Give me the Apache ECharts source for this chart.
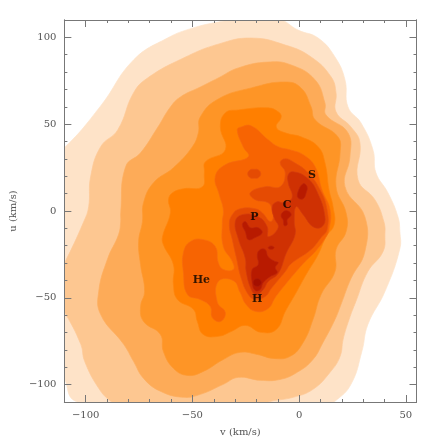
<!DOCTYPE html>
<html>
<head>
<meta charset="utf-8">
<style>
	html, body { margin: 0; padding: 0; background: #fff; }
	#chart { width: 436px; height: 443px; }
</style>
<script src="https://cdn.jsdelivr.net/npm/echarts@6/dist/echarts.min.js"></script>
</head>
<body>
<div id="chart"></div>
<script>
// tick values
var xMajor = [-100, -50, 0, 50];
var xMinor = [-100, -90, -80, -70, -60, -50, -40, -30, -20, -10, 0, 10, 20, 30, 40, 50];
var yMajor = [-100, -50, 0, 50, 100];
var yMinor = [-100, -90, -80, -70, -60, -50, -40, -30, -20, -10, 0, 10, 20, 30, 40, 50, 60, 70, 80, 90, 100];

// group names and where they sit, [v, u]
var groupNames = ['He', 'S', 'C', 'P', 'H'];
var groupSpots = [[-45.8, -40], [6, 20.9], [-5.6, 3.6], [-21, -3.3], [-19.6, -51]];

// density contours, [v, u], outermost first
var contour1 = [[-116, 33], [-110, 36.4], [-93, 60.5], [-77.6, 87], [-61.7, 99.6], [-50, 105.3], [-37.9, 108.8], [-27.6, 110.5], [-9.8, 110.5], [-0.5, 104.2], [8.9, 99.6], [16.8, 88.7], [21.5, 75.5], [22.9, 59.9], [29, 50.7], [34.6, 35.2], [36, 22], [41.6, 10.5], [46.3, -3.3], [47.2, -11.9], [47.2, -21.7], [40.2, -46.4], [32.2, -65.4], [29.4, -80.9], [24.3, -99.8], [16.8, -109.6], [5, -120], [-70, -120], [-104.7, -109.6], [-110, -96.4], [-116, -80]];
var contour2 = [[-77.6, 68], [-71, 76.6], [-54.2, 88.1], [-37.9, 96.1], [-22.4, 99.6], [-6.5, 95.6], [5.6, 88.7], [15, 77.2], [17.3, 68], [17.3, 57.1], [24.3, 48.4], [28.5, 39.2], [27.6, 18], [35.5, 6.5], [39.7, -6.1], [40.2, -13.6], [39.3, -23.4], [32.2, -34.9], [26.6, -52.1], [23.4, -62.5], [20.6, -74], [19.2, -83.7], [14.5, -92.9], [6.5, -102.7], [-2.8, -107.3], [-15, -110.2], [-27.6, -117], [-79, -117], [-88.3, -109.6], [-93.9, -102.1], [-100.5, -86.6], [-102.3, -76.8], [-110, -57.9], [-116.4, -45.2], [-110, -30.3], [-100.9, -6.1], [-98.6, 2.5], [-97.7, 19.7], [-93, 37], [-85, 46.7]];
var contour3 = [[-83.6, -1], [-81.3, 25.5], [-74.3, 33.5], [-66.4, 47.9], [-60.3, 59.9], [-55.6, 65.7], [-46.3, 71.4], [-37.9, 76.6], [-28.5, 82.4], [-14.5, 85.8], [-3.7, 84.1], [7.5, 75.5], [12.1, 62.2], [12.6, 55.3], [22.9, 45], [23.8, 31.2], [21.5, 14], [30.8, -3.3], [30.8, -23.4], [24.3, -38.9], [19.6, -53.9], [16.8, -62.5], [11.2, -75.7], [6.5, -85.5], [-0.9, -92.9], [-8.9, -97], [-18.2, -97.5], [-28.5, -95.8], [-35.5, -99.8], [-46.3, -105.6], [-54.2, -107.3], [-65, -103.8], [-72.9, -96.4], [-77.6, -86.6], [-82.2, -76.8], [-93, -59.6], [-93.9, -46.4], [-89.7, -27.4], [-84.6, -13.6], [-83.6, -6.1]];
var contour4 = [[-72.9, 4.8], [-68.2, 16.3], [-58.9, 24.9], [-50, 37], [-47.2, 45], [-46.3, 54.2], [-37.9, 64.5], [-22.4, 70.9], [-6.5, 74.3], [0.9, 70.9], [5.6, 60], [7.5, 52.5], [18.2, 42.7], [19.2, 33.5], [17.3, 14], [22, -1], [22, -11.9], [17.3, -22.2], [16.8, -34.9], [10.3, -48.1], [6.5, -62.5], [1.9, -75.7], [-4.2, -83.7], [-12.1, -84.9], [-19.6, -82.6], [-27.6, -81.4], [-35.5, -85.5], [-44.9, -92.4], [-52.3, -94.7], [-58.9, -90.6], [-63.6, -80.9], [-65, -71.1], [-72.9, -63.6], [-74.3, -55], [-72.4, -46.4], [-74.3, -30.9], [-75.2, -17.6], [-73.4, -6.1]];
var contour5 = [[-34.6, 56.5], [-28.5, 58.2], [-14.5, 59.4], [-9.8, 57.1], [-8.4, 54.2], [-10.7, 48.4], [-6.5, 45], [0.9, 42.7], [8.9, 37], [12.1, 27.8], [14, 12.2], [15.9, 2.5], [16.4, -7.9], [12.6, -14.8], [8.9, -25.1], [3.3, -36.6], [-1.9, -48.1], [-6.5, -57.9], [-10.7, -68.2], [-17.8, -69.9], [-25.2, -65.9], [-31.8, -69.4], [-37.9, -72.2], [-44.9, -71.1], [-47.7, -63.6], [-49.5, -56.7], [-57, -51], [-58.9, -42.4], [-58.9, -30.9], [-63.6, -19.4], [-64, -14.8], [-60.3, -1], [-61.2, 6.5], [-59.3, 10.5], [-54.2, 12.8], [-45.3, 14], [-44.4, 22], [-43.9, 28.3], [-34.6, 35.2], [-36.9, 48.4]];
var contour6 = [[-27.1, 48.4], [-22.4, 49], [-14.5, 41], [-9.8, 37], [-4.2, 35.2], [1.9, 32.4], [7.5, 25.5], [10.7, 12.2], [14.5, 0.7], [14, -10.7], [12.1, -15.9], [7.5, -23.4], [2.8, -29.1], [-1.4, -34.9], [-6.5, -42.4], [-11.2, -49.8], [-14.5, -56.1], [-20.1, -57.9], [-24.8, -53.9], [-27.6, -47], [-30.8, -40.1], [-37.9, -40.6], [-38.3, -52.7], [-34.6, -58.4], [-36.9, -63.6], [-40.7, -61.3], [-41.6, -55], [-46.3, -51], [-52.3, -48.1], [-54.2, -35.5], [-54.2, -24], [-50.9, -17.6], [-44.9, -16.5], [-39.3, -20.5], [-37.9, -29.7], [-35.5, -33.7], [-30.8, -33.7], [-31.3, -29.1], [-35.5, -20.5], [-36, -6.7], [-35.5, 0.7], [-37.4, 9.4], [-39.3, 19.7], [-34.6, 26.6], [-23.8, 31.2], [-26.2, 37], [-29, 46.7]];
var contour7a = [[-24.1, 21.4], [-22.9, 23.7], [-21, 24], [-19.2, 23.7], [-18, 21.4], [-19.2, 19.1], [-21, 18.9], [-22.9, 19.1]];
var contour7b = [[-6.5, 30.1], [-2.8, 28.3], [4.2, 22], [9.8, 12.2], [13.1, 0.7], [13.1, -10.7], [10.3, -15.3], [5.6, -22.2], [-3.7, -30.3], [-6.5, -34.9], [-13.1, -44.7], [-15.9, -49.3], [-20.6, -51], [-23.8, -48.1], [-27.1, -38.9], [-29.4, -26.8], [-31.3, -16.5], [-32.7, -7.9], [-31.3, -2.1], [-27.6, 1.3], [-20.6, 1.3], [-17.3, -1], [-13.6, -6.1], [-12.1, -3.9], [-12.6, 0.7], [-14.5, 4.8], [-20.6, 6.5], [-22.9, 10.5], [-15.9, 14], [-8.9, 14], [-6.5, 22], [-8.9, 27.8]];
var contour8 = [[-5.1, 20.9], [-2.8, 22.6], [3.7, 19.1], [8.4, 11.1], [12.1, -3.3], [10.7, -9], [6.5, -9], [1.9, -2.1], [-1.4, 2.5], [-2.3, -6.1], [-1.9, -13.6], [-6.1, -24.5], [-9.8, -36], [-14.5, -40.6], [-16.8, -45.2], [-20.1, -48.1], [-22.4, -45.2], [-24.8, -34.9], [-25.2, -27.4], [-28.5, -15.9], [-29.9, -6.1], [-26.6, -2.1], [-19.2, -3.3], [-15, -9], [-14.5, -14.8], [-9.8, -9.6], [-11.7, -3.9], [-12.6, 2.5], [-10.3, 5.3], [-7.5, 4.8], [-3.3, 7.6], [-5.1, 16.3]];
var contour9a = [[1.9, 15.7], [3.7, 14], [3.3, 10.5], [1.9, 7.1], [-0.5, 7.6], [-0.5, 11.1]];
var contour9b = [[-7.9, -1], [-5.6, 0.2], [-3.7, -2.1], [-5.6, -5], [-5.6, -7.9], [-7, -8.4], [-7.5, -5], [-8.4, -3.3]];
var contour9c = [[-26.6, -7.9], [-25.2, -6.1], [-22.9, -9.6], [-19.2, -9.6], [-17.3, -12.5], [-20.6, -15.3], [-23.8, -16.5], [-25.2, -11.9]];
var contour9d = [[-14.5, -21.1], [-13.1, -20.1], [-11.7, -21.1], [-13.1, -22.1]];
var contour9e = [[-18.2, -22.2], [-15.9, -22.2], [-14.5, -26.3], [-11.2, -29.1], [-9.8, -29.7], [-11.2, -32.6], [-10.3, -35.5], [-13.6, -37.8], [-16.8, -41.2], [-18.2, -45.2], [-20.6, -45.8], [-22, -41.2], [-22, -33.7], [-19.2, -30.9], [-19.6, -25.1]];
var contour10 = [[-21.5, -41.2], [-20.9, -39.6], [-19.6, -39], [-18.3, -39.6], [-17.7, -41.2], [-18.3, -42.8], [-19.6, -43.4], [-20.9, -42.8]];

var fills = {
	c1: '#fee3c8', c2: '#fdc791', c3: '#fdab58', c4: '#fe9526', c5: '#ff7f00',
	c6: '#f76402', c7: '#e54b03', c8: '#cf3103', c9: '#b81a00', c10: '#a50f00'
};
var rings = [
	[contour1, fills.c1], [contour2, fills.c2], [contour3, fills.c3], [contour4, fills.c4], [contour5, fills.c5],
	[contour6, fills.c6], [contour7a, fills.c7], [contour7b, fills.c7], [contour8, fills.c8],
	[contour9a, fills.c9], [contour9b, fills.c9], [contour9c, fills.c9], [contour9d, fills.c9], [contour9e, fills.c9],
	[contour10, fills.c10]
];

var serif = '"DejaVu Serif", serif';
var axisGrey = '#777';

function ringSeries(ring, color) {
	return {
		type: 'custom',
		coordinateSystem: 'cartesian2d',
		clip: true,
		silent: true,
		animation: false,
		data: ring,
		encode: { x: 0, y: 1 },
		renderItem: function (params, api) {
			if (params.dataIndex !== 0) return null;
			return {
				type: 'polygon',
				shape: {
					points: ring.map(function (p) { return api.coord(p); }),
					smooth: 0.45
				},
				style: { fill: color, stroke: echarts.color.lift(color, 0.05), lineWidth: 0.7 }
			};
		}
	};
}

function tickAxis(position, range, ticks, len, withLabels, name, gap) {
	var ax = {
		type: 'value',
		position: position,
		min: range[0],
		max: range[1],
		z: 10,
		splitLine: { show: false },
		axisLine: { show: true, onZero: false, lineStyle: { color: axisGrey, width: 1 } },
		axisTick: { show: true, inside: true, length: len, customValues: ticks, lineStyle: { color: axisGrey, width: 1 } },
		axisLabel: { show: false }
	};
	if (withLabels) {
		ax.axisLabel = {
			show: true,
			customValues: ticks,
			color: '#555',
			fontFamily: serif,
			fontSize: 10,
			margin: 8,
			formatter: function (val) { return String(val).replace('-', '\u2212'); }
		};
		ax.name = name;
		ax.nameLocation = 'middle';
		ax.nameGap = gap;
		ax.nameTextStyle = { color: '#555', fontFamily: serif, fontSize: 10 };
	}
	return ax;
}

var xRange = [-110, 55];
var yRange = [-110, 110];

var mainChart = echarts.init(document.getElementById('chart'));
var series = rings.map(function (r) { return ringSeries(r[0], r[1]); });
series.push({
	type: 'scatter',
	silent: true,
	animation: false,
	symbolSize: 0,
	z: 5,
	data: groupSpots.map(function (p, i) { return { value: p, name: groupNames[i] }; }),
	label: {
		show: true,
		position: 'inside',
		formatter: '{b}',
		color: '#000',
		fontFamily: serif,
		fontWeight: 'bold',
		fontSize: 11
	}
});

mainChart.setOption({
	animation: false,
	backgroundColor: '#fff',
	grid: { left: 63.5, right: 19.5, top: 20, bottom: 41 },
	xAxis: [
		tickAxis('bottom', xRange, xMajor, 7, true, 'v (km/s)', 25),
		tickAxis('bottom', xRange, xMinor, 3, false),
		tickAxis('top', xRange, xMajor, 7, false),
		tickAxis('top', xRange, xMinor, 3, false)
	],
	yAxis: [
		tickAxis('left', yRange, yMajor, 7, true, 'u (km/s)', 38),
		tickAxis('left', yRange, yMinor, 3, false),
		tickAxis('right', yRange, yMajor, 7, false),
		tickAxis('right', yRange, yMinor, 3, false)
	],
	series: series
});
</script>
</body>
</html>
